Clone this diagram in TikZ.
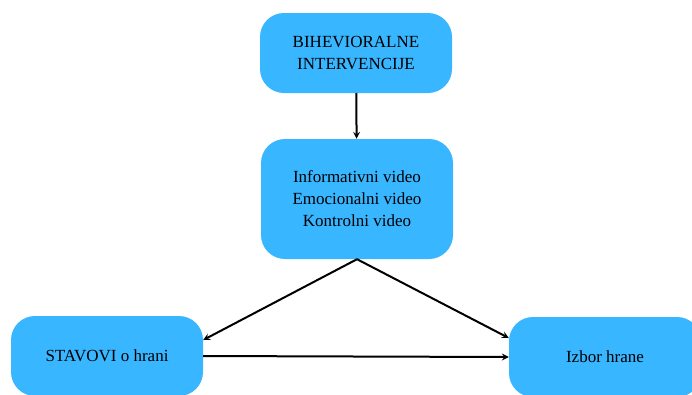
\documentclass[tikz,border=0pt]{standalone}
\usepackage{fontspec}
\setmainfont{Liberation Serif}
\usepackage{tikz}
\usetikzlibrary{arrows,calc,positioning}
\definecolor{boxblue}{HTML}{38B6FF}

\tikzset{
    stepbox/.style={rectangle, rounded corners=24pt, fill=boxblue, draw=none,
        minimum width=192pt, minimum height=80pt, inner sep=0pt, align=center,
        font=\fontsize{17}{22}\selectfont},
    link/.style={->,>=stealth,line width=2pt}
}

\begin{document}
\begin{tikzpicture}[x=1pt,y=-1pt]
        \useasboundingbox (0,0) rectangle (692,394);
        \clip (0,0) rectangle (692,394);

        \node[stepbox] (interv) at (356,53) {BIHEVIORALNE\\INTERVENCIJE};
        \node[stepbox,minimum height=120pt] (video) at (357,199) {Informativni video\\Emocionalni video\\Kontrolni video};
        \node[stepbox] (stavovi) at (107,356) {STAVOVI o hrani};
        \node[stepbox] (izbor) at (605,357) {Izbor hrane};

        \draw[link] (interv) -- (video);
        \draw[link] (video.south) -- ([yshift=16pt]stavovi.east);
        \draw[link] (video.south) -- ([yshift=19pt]izbor.west);
        \draw[link] (stavovi.east) -- (izbor.west);
    \end{tikzpicture}
\end{document}
